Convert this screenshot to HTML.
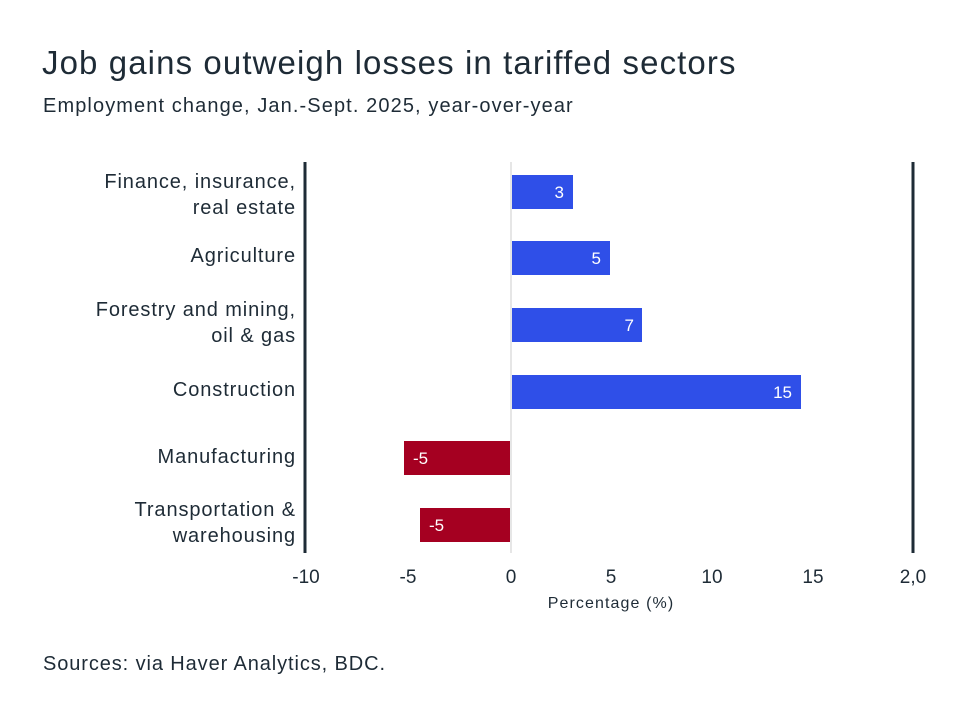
<!DOCTYPE html>
<html><head><style>
body{margin:0;width:960px;height:721px;background:#fff;font-family:"Liberation Sans",sans-serif;color:#1e2b36;position:relative;overflow:hidden}
.t{position:absolute;white-space:nowrap}
</style></head><body>
<div class="t" style="left:42px;top:44px;font-size:33px;letter-spacing:1.1px">Job gains outweigh losses in tariffed sectors</div>
<div class="t" style="left:43px;top:95px;font-size:20px;letter-spacing:1.1px">Employment change, Jan.-Sept. 2025, year-over-year</div>
<div class="t" style="left:43px;top:653px;font-size:20px;letter-spacing:0.9px">Sources: via Haver Analytics, BDC.</div>
<svg width="960" height="721" style="position:absolute;left:0;top:0" font-family="Liberation Sans, sans-serif">
<line x1="511" y1="162" x2="511" y2="553" stroke="#ddd" stroke-width="1.5"/>
<line x1="305" y1="162" x2="305" y2="553" stroke="#1e2b36" stroke-width="3"/>
<line x1="913" y1="162" x2="913" y2="553" stroke="#1e2b36" stroke-width="3"/>
<g fill="#2f4fe8">
<rect x="512" y="175" width="61" height="34"/>
<rect x="512" y="241" width="98" height="34"/>
<rect x="512" y="308" width="130" height="34"/>
<rect x="512" y="375" width="289" height="34"/>
</g>
<g fill="#a50021">
<rect x="404" y="441" width="106" height="34"/>
<rect x="420" y="508" width="90" height="34"/>
</g>
<g fill="#fff" font-size="17" text-anchor="end">
<text x="564" y="198">3</text><text x="601" y="264">5</text><text x="634" y="331">7</text><text x="792" y="398">15</text>
</g>
<g fill="#fff" font-size="17">
<text x="413" y="464">-5</text><text x="429" y="531">-5</text>
</g>
<g fill="#1e2b36" font-size="20" text-anchor="end" letter-spacing="0.9">
<text x="296" y="188">Finance, insurance,</text><text x="296" y="214">real estate</text>
<text x="296" y="262">Agriculture</text>
<text x="296" y="316">Forestry and mining,</text><text x="296" y="342">oil &amp; gas</text>
<text x="296" y="396">Construction</text>
<text x="296" y="463">Manufacturing</text>
<text x="296" y="516">Transportation &amp;</text><text x="296" y="542">warehousing</text>
</g>
<g fill="#1e2b36" font-size="19" text-anchor="middle">
<text x="306" y="583">-10</text><text x="408" y="583">-5</text><text x="511" y="583">0</text><text x="611" y="583">5</text><text x="712" y="583">10</text><text x="813" y="583">15</text><text x="913" y="583">2,0</text>
</g>
<text x="611" y="608" font-size="16" text-anchor="middle" fill="#1e2b36" letter-spacing="1.1">Percentage (%)</text>
</svg>
</body></html>
